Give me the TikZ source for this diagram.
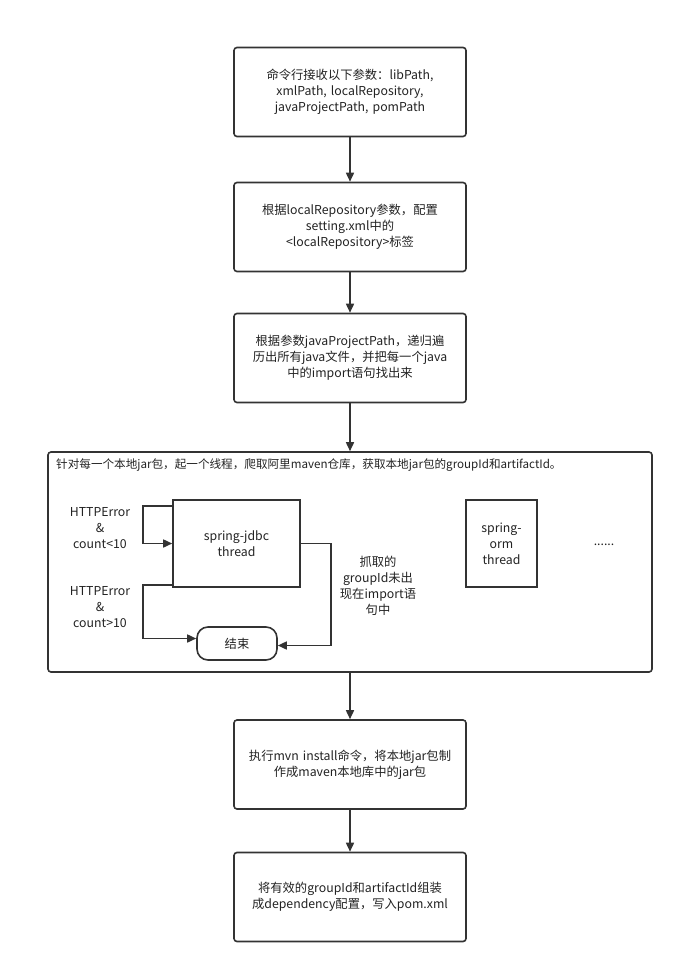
\documentclass[tikz,border=0pt]{standalone}
\usepackage{fontspec}
\setmainfont{Noto Sans CJK SC}
\usetikzlibrary{arrows.meta,calc}
\definecolor{lc}{HTML}{333333}
\definecolor{tc}{HTML}{222222}
\begin{document}
\begin{tikzpicture}[x=1pt,y=-1pt,
  every node/.style={font=\fontsize{12.3}{16}\selectfont, text=tc},
  box/.style={draw=lc, line width=1.6pt, rounded corners=3pt, minimum width=232pt, minimum height=89pt, text width=225pt, inner sep=0pt, align=center},
  sq/.style={draw=lc, line width=1.6pt, inner sep=0pt, align=center},
  lab/.style={align=center, inner sep=0pt},
  arr/.style={draw=lc, line width=1.6pt, -{Triangle[length=9pt,width=8pt]}},
  ln/.style={draw=lc, line width=1.6pt}]
\useasboundingbox (0,0) rectangle (684,973);
\node[box] (b1) at (350,92) {命令行接收以下参数：libPath,\\xmlPath, localRepository,\\javaProjectPath, pomPath};
\node[box] (b2) at (350,227) {根据localRepository参数，配置\\setting.xml中的\\<localRepository>标签};
\node[box] (b3) at (350,358) {根据参数javaProjectPath，递归遍\\历出所有java文件，并把每一个java\\中的import语句找出来};
\node[draw=lc, line width=1.6pt, rounded corners=3pt, minimum width=604pt, minimum height=220pt, inner sep=0pt] (c) at (350,562) {};
\node[anchor=west, inner sep=0pt, font=\fontsize{11.6}{16}\selectfont] (title) at (56,465) {针对每一个本地jar包，起一个线程，爬取阿里maven仓库，获取本地jar包的groupId和artifactId。};
\node[sq, minimum width=127pt, minimum height=87pt] (jdbc) at (236.5,543.5) {spring-jdbc\\thread};
\node[sq, minimum width=71pt, minimum height=87pt] (orm) at (501.5,543.5) {spring-\\orm\\thread};
\node[lab] (dots) at (604,545) {......};
\node[draw=lc, line width=1.6pt, rounded corners=11pt, minimum width=80pt, minimum height=33pt, inner sep=0pt] (end) at (237,643.5) {结束};
\node[lab] (l1) at (100,528) {HTTPError\\\&\\count<10};
\node[lab] (l2) at (100,607) {HTTPError\\\&\\count>10};
\node[lab] (l3) at (378,586) {抓取的\\groupId未出\\现在import语\\句中};
\node[box] (b4) at (350,764.5) {执行mvn install命令，将本地jar包制\\作成maven本地库中的jar包};
\node[box] (b5) at (350,897) {将有效的groupId和artifactId组装\\成dependency配置，写入pom.xml};
\draw[arr] (b1) -- (b2);
\draw[arr] (b2) -- (b3);
\draw[arr] (b3) -- (c);
\draw[arr] (c) -- (b4);
\draw[arr] (b4) -- (b5);
\draw[arr] ($(jdbc.north west)+(0,7)$) -- ++(-29,0) |- (jdbc.west);
\draw[arr] ($(jdbc.south west)+(0,-3)$) -- ++(-29,0) |- ($(end.west)+(0,-5)$);
\draw[arr] (jdbc.east) -- ++(30,0) |- ($(end.east)+(0,2)$);
\end{tikzpicture}
\end{document}
